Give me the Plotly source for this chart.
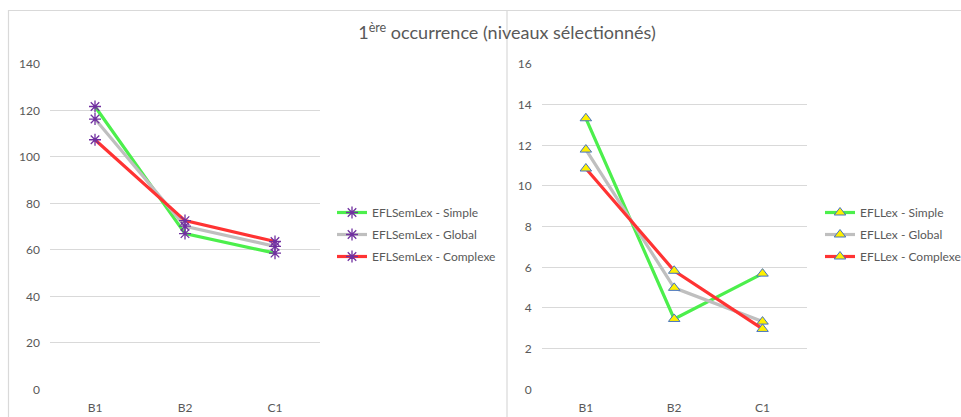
import plotly.graph_objects as go

W, H = 961, 417

categories = ["B1", "B2", "C1"]

semlex_simple = [121.7, 67.0, 58.6]
semlex_global = [116.3, 70.2, 61.5]
semlex_complexe = [107.4, 72.6, 63.6]

lex_simple = [13.33, 3.46, 5.69]
lex_global = [11.79, 4.99, 3.33]
lex_complexe = [10.86, 5.83, 2.97]

left_ticks = [0, 20, 40, 60, 80, 100, 120, 140]
right_ticks = [0, 2, 4, 6, 8, 10, 12, 14, 16]

GREEN = "#4CEF4C"
GRAY = "#BFBFBF"
RED = "#FF3333"
PURPLE = "#7030A0"
TXT = "#595959"
GRID = "#D9D9D9"
FONT = "Lato, sans-serif"

fig = go.Figure()

def px_x(p):
    return p / W

def px_y(p):
    return 1 - p / H

left_series = [("EFLSemLex - Simple", semlex_simple, GREEN),
               ("EFLSemLex - Global", semlex_global, GRAY),
               ("EFLSemLex - Complexe", semlex_complexe, RED)]
for i, (name, vals, col) in enumerate(left_series):
    fig.add_trace(go.Scatter(
        x=categories, y=vals, name=name, mode="lines+markers",
        line=dict(color=col, width=3.2),
        marker=dict(symbol="asterisk-open", size=10, color=PURPLE,
                    line=dict(color=PURPLE, width=1.3)),
        legendgroup="L%d" % i,
        xaxis="x", yaxis="y", legend="legend"))

right_series = [("EFLLex - Simple", lex_simple, GREEN),
                ("EFLLex - Global", lex_global, GRAY),
                ("EFLLex - Complexe", lex_complexe, RED)]
for i, (name, vals, col) in enumerate(right_series):
    fig.add_trace(go.Scatter(
        x=categories, y=vals, name=name, mode="lines+markers",
        line=dict(color=col, width=3.2),
        marker=dict(symbol="triangle-up", size=10, color="#FFF000",
                    line=dict(color="#4472C4", width=1)),
        legendgroup="R%d" % i,
        xaxis="x2", yaxis="y2", legend="legend2"))

ydom = [px_y(389.3), px_y(64)]
axis_common = dict(showline=False, zeroline=False, ticks="", automargin=False,
                   tickfont=dict(family=FONT, size=12, color=TXT))

legend_common = dict(xanchor="left", yanchor="top",
                     bgcolor="rgba(0,0,0,0)", tracegroupgap=3, itemwidth=30,
                     font=dict(family=FONT, size=12, color=TXT))

fig.update_layout(
    width=W, height=H,
    margin=dict(l=0, r=0, t=0, b=0, autoexpand=False),
    paper_bgcolor="white", plot_bgcolor="white",
    showlegend=True,
    title=dict(text="1<sup>ère</sup> occurrence (niveaux sélectionnés)",
               x=507 / W, xanchor="center", y=px_y(33), yanchor="middle",
               font=dict(family=FONT, size=18, color=TXT)),
    xaxis=dict(domain=[px_x(50), px_x(320)], type="category",
               range=[-0.5, 2.5], showgrid=False, anchor="y",
               ticklabelstandoff=10, **axis_common),
    yaxis=dict(domain=ydom, range=[0, 140], tickvals=left_ticks,
               showgrid=True, gridcolor=GRID, gridwidth=1.3,
               anchor="x", ticklabelstandoff=9, **axis_common),
    xaxis2=dict(domain=[px_x(541.7), px_x(806.7)], type="category",
                range=[-0.5, 2.5], showgrid=False, anchor="y2",
                ticklabelstandoff=10, **axis_common),
    yaxis2=dict(domain=ydom, range=[0, 16], tickvals=right_ticks,
                showgrid=True, gridcolor=GRID, gridwidth=1.3,
                anchor="x2", ticklabelstandoff=9, **axis_common),
    legend=dict(x=px_x(332), y=px_y(198), **legend_common),
    legend2=dict(x=px_x(820), y=px_y(198), **legend_common),
)

fig.add_shape(type="rect", xref="paper", yref="paper",
              x0=px_x(8.5), x1=px_x(965), y0=px_y(420), y1=px_y(10.5),
              line=dict(color=GRID, width=1.2))
fig.add_shape(type="line", xref="paper", yref="paper",
              x0=px_x(507), x1=px_x(507), y0=px_y(420), y1=px_y(10.5),
              line=dict(color=GRID, width=1.2))

fig.write_html("out.html")
